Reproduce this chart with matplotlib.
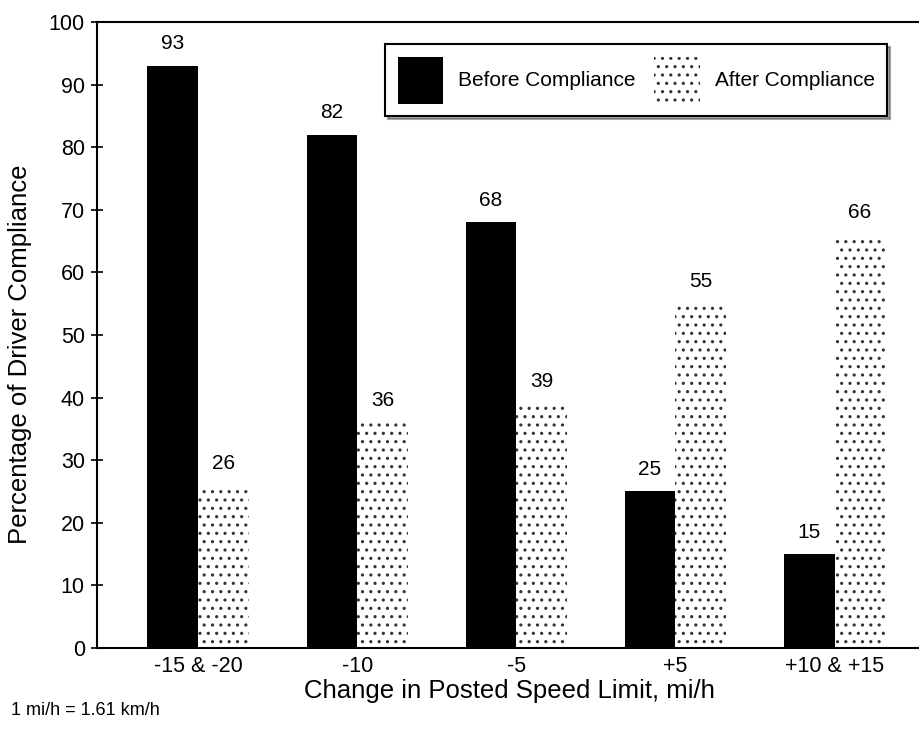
import matplotlib.pyplot as plt
import numpy as np

plt.rcParams['font.family'] = ['Liberation Sans', 'DejaVu Sans']
plt.rcParams['hatch.linewidth'] = 1.1

# data
categories = ['-15 & -20', '-10', '-5', '+5', '+10 & +15']
before = [93, 82, 68, 25, 15]
after = [26, 36, 39, 55, 66]

x = np.arange(len(categories))
w = 0.32

fig = plt.figure(figsize=(9.2, 7.33), dpi=100)
ax = fig.add_axes([0.105, 0.116, 0.93, 0.854])

ax.bar(x - w / 2, before, w, color='black', label='Before Compliance')
ax.bar(x + w / 2, after, w, facecolor='white', edgecolor='#333333',
       linewidth=0, hatch='..', label='After Compliance')

for xi, v in zip(x - w / 2, before):
    ax.text(xi, v + 2.0, str(v), ha='center', va='bottom', fontsize=15)
for xi, v in zip(x + w / 2, after):
    ax.text(xi, v + 2.0, str(v), ha='center', va='bottom', fontsize=15)

ax.set_ylim(0, 100)
ax.set_xlim(-0.64, 4.74)
ax.set_yticks(range(0, 101, 10))
ax.set_xticks(x)
ax.set_xticklabels(categories)
ax.tick_params(axis='y', direction='inout', length=9, width=1.2, labelsize=15.5, pad=4)
ax.tick_params(axis='x', length=0, labelsize=15.5, pad=6)
ax.spines['right'].set_visible(False)
for s in ['left', 'bottom', 'top']:
    ax.spines[s].set_linewidth(1.5)

ax.set_ylabel('Percentage of Driver Compliance', fontsize=18.5)
ax.set_xlabel('Change in Posted Speed Limit, mi/h', fontsize=18.5)
ax.yaxis.set_label_coords(-0.075, 0.47)
ax.xaxis.set_label_coords(0.482, -0.05)

leg = fig.legend(loc='upper left', bbox_to_anchor=(385 / 920, 1 - 44 / 733), ncol=2,
                 fontsize=15, frameon=True, fancybox=False, shadow=True,
                 edgecolor='black', framealpha=1, handlelength=2.2,
                 handleheight=3.1, handletextpad=0.7, borderpad=0.6,
                 columnspacing=0.9, borderaxespad=0)
leg.get_frame().set_linewidth(1.5)

fig.text(0.012, 0.025, '1 mi/h = 1.61 km/h', fontsize=13)

fig.savefig('out.png', dpi=100)
